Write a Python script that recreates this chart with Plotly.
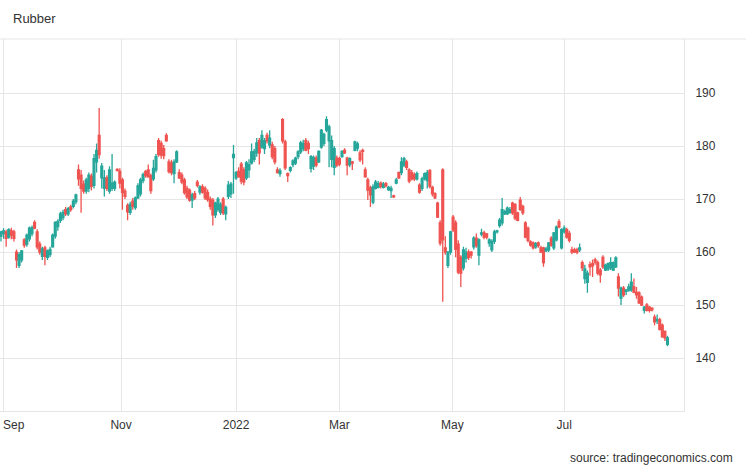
import plotly.graph_objects as go
import pandas as pd

TITLE = "Rubber"
SOURCE = "source: tradingeconomics.com"
START_DATE = "2021-08-31"

OPEN = [
    163.0, 163.5, 163.8, 162.8, 164.0, 163.8, 160.0, 157.5, 158.5, 162.3,
    161.5, 162.5, 163.5, 165.6, 163.8, 161.5, 159.2, 160.8, 159.0, 159.5,
    161.0, 163.0, 164.8, 166.0, 166.5, 168.0, 167.2, 168.5, 168.6, 169.5,
    175.5, 174.5, 172.8, 171.5, 172.0, 174.3, 172.6, 177.0, 182.0, 174.0,
    172.0, 174.0, 171.5, 172.0, 172.0, 175.6, 175.2, 173.6, 171.5, 168.8,
    167.5, 169.6, 168.4, 170.2, 171.0, 173.5, 175.2, 175.5, 174.4, 173.8,
    175.5, 181.0, 180.5, 179.5, 182.0, 177.0, 176.8, 174.8, 177.0, 175.0,
    174.5, 173.6, 172.0, 171.7, 169.8, 171.0, 173.2, 171.3, 172.3, 172.0,
    171.2, 170.0, 169.8, 167.0, 168.0, 167.5, 170.0, 167.2, 170.5, 171.0,
    177.8, 174.0, 175.2, 176.6, 175.5, 174.0, 175.5, 176.8, 177.5, 178.7,
    181.0, 179.8, 179.5, 182.0, 180.2, 180.2, 179.5, 175.5, 174.8, 185.0,
    180.8, 174.8, 175.4, 176.5, 176.8, 178.0, 178.9, 179.5, 181.0, 180.5,
    175.8, 176.2, 177.7, 177.0, 179.8, 180.5, 183.0, 181.0, 177.5, 176.0,
    177.7, 177.6, 178.0, 179.2, 177.7, 176.5, 177.0, 179.2, 179.6, 178.7,
    179.2, 175.5, 173.6, 172.1, 169.4, 172.0, 172.2, 173.0, 172.2, 172.9,
    171.8, 171.6, 170.6, 173.0, 175.0, 175.0, 176.4, 177.0, 175.5, 175.0,
    174.6, 173.8, 172.6, 172.0, 173.8, 173.5, 175.4, 172.2, 171.0, 169.2,
    165.5, 175.5, 160.8, 157.5, 160.0, 166.6, 165.5, 161.5, 159.0, 157.0,
    158.8, 160.0, 160.0, 161.0, 162.6, 159.4, 163.4, 163.6, 163.4, 161.7,
    160.4, 162.0, 163.8, 165.0, 165.5, 167.2, 167.2, 167.5, 169.2, 169.0,
    167.4, 169.8, 168.6, 165.5, 164.5, 161.9, 161.7, 161.0, 161.7, 160.8,
    160.8, 160.2, 160.4, 162.6, 160.8, 162.3, 165.7, 160.8, 163.8, 164.2,
    163.5, 160.4, 160.4, 160.4, 160.4, 158.0, 155.0, 154.3, 157.6, 157.8,
    158.5, 158.0, 156.6, 159.0, 156.6, 156.8, 157.0, 156.6, 157.2, 155.3,
    151.3, 153.2, 152.6, 152.8, 152.8, 153.4, 152.4, 152.3, 151.5, 149.0,
    150.0, 149.6, 149.4, 147.7, 147.0, 147.2, 146.2, 145.0, 142.6,
]
HIGH = [
    164.0, 164.5, 164.2, 164.5, 164.6, 164.2, 160.5, 160.0, 160.4, 162.6,
    163.5, 164.8, 165.0, 166.0, 164.3, 162.0, 161.0, 161.2, 160.5, 161.0,
    163.5, 165.8, 166.2, 167.6, 168.0, 168.5, 168.5, 168.9, 170.0, 171.0,
    176.5, 175.5, 173.5, 174.0, 175.0, 174.8, 178.5, 180.5, 187.2, 176.8,
    175.5, 174.5, 176.2, 178.5, 173.5, 175.8, 175.8, 174.0, 172.0, 169.2,
    169.5, 170.2, 170.5, 173.0, 174.0, 175.0, 175.5, 176.5, 174.8, 177.4,
    178.5, 181.5, 181.0, 180.2, 182.4, 177.5, 177.4, 177.5, 179.2, 175.6,
    175.0, 174.0, 172.5, 172.0, 171.2, 171.5, 173.6, 172.6, 172.8, 172.4,
    171.8, 170.5, 170.2, 169.5, 170.4, 169.4, 170.4, 168.8, 173.4, 173.2,
    180.2, 175.3, 176.0, 177.0, 176.0, 177.2, 177.5, 180.5, 179.5, 181.5,
    181.5, 183.0, 181.5, 182.5, 183.0, 180.8, 180.0, 176.0, 175.8, 185.3,
    181.2, 175.0, 176.2, 177.5, 178.0, 179.2, 181.0, 181.2, 181.5, 181.0,
    178.3, 178.2, 178.2, 179.2, 183.2, 182.5, 185.6, 184.0, 182.0, 180.0,
    178.2, 178.0, 179.2, 179.6, 178.0, 177.9, 177.2, 181.0, 180.8, 179.2,
    179.5, 176.0, 174.0, 172.5, 172.8, 173.6, 173.4, 173.3, 173.2, 173.2,
    172.5, 172.5, 170.8, 174.0, 175.2, 177.9, 178.0, 177.4, 175.8, 175.5,
    175.0, 175.2, 173.0, 174.2, 175.0, 175.5, 175.6, 172.5, 171.3, 169.5,
    166.0, 175.8, 163.0, 160.2, 164.0, 167.0, 166.0, 162.2, 159.4, 161.0,
    160.8, 160.5, 160.2, 163.0, 163.5, 162.6, 164.4, 164.0, 163.6, 162.6,
    162.4, 164.2, 164.2, 166.4, 170.2, 168.0, 168.6, 168.5, 169.5, 169.2,
    167.6, 170.4, 168.9, 165.8, 164.8, 162.2, 162.0, 161.9, 162.0, 161.2,
    161.0, 161.0, 161.9, 163.0, 163.8, 165.0, 166.2, 164.5, 165.0, 164.6,
    164.0, 161.0, 160.8, 160.8, 161.6, 158.4, 157.6, 156.5, 158.2, 158.6,
    158.9, 158.4, 157.0, 159.4, 157.8, 158.0, 159.0, 158.2, 159.2, 156.0,
    153.5, 153.6, 153.0, 154.0, 156.0, 155.0, 153.4, 152.6, 151.8, 149.8,
    150.4, 149.8, 149.6, 148.2, 148.2, 147.6, 146.5, 145.2, 144.2,
]
LOW = [
    162.0, 162.5, 161.0, 162.5, 162.4, 162.0, 157.0, 157.0, 158.0, 160.8,
    161.0, 162.0, 163.0, 164.3, 160.5, 159.5, 158.5, 157.5, 158.5, 159.0,
    160.8, 162.5, 164.0, 165.5, 166.0, 166.8, 166.8, 167.6, 168.2, 169.0,
    172.5, 167.4, 171.0, 171.0, 171.3, 171.6, 172.0, 175.0, 177.6, 172.0,
    170.5, 171.5, 171.0, 171.5, 171.5, 175.2, 172.0, 168.0, 170.0, 166.0,
    167.0, 168.0, 168.0, 170.0, 170.5, 173.0, 174.0, 174.0, 171.0, 173.4,
    175.0, 178.0, 177.6, 177.5, 180.8, 174.8, 174.5, 173.0, 176.8, 173.8,
    172.8, 170.8, 170.0, 169.5, 168.3, 169.8, 172.2, 170.8, 171.0, 169.8,
    169.5, 168.0, 165.0, 166.4, 167.6, 167.0, 167.0, 166.0, 170.0, 170.2,
    171.0, 173.6, 174.0, 172.8, 172.6, 173.6, 174.0, 176.5, 177.0, 178.0,
    176.5, 179.5, 178.5, 180.5, 179.6, 177.5, 176.5, 174.8, 174.2, 180.5,
    175.5, 173.2, 175.0, 176.0, 176.4, 177.5, 178.5, 179.0, 179.0, 178.5,
    175.0, 175.5, 176.0, 176.8, 179.5, 180.0, 182.6, 176.0, 176.0, 174.5,
    176.0, 176.2, 177.8, 178.5, 174.5, 176.0, 175.5, 179.0, 179.0, 177.0,
    176.5, 174.0, 169.8, 168.5, 169.0, 171.8, 172.0, 172.0, 172.0, 172.2,
    171.5, 170.2, 170.2, 172.8, 173.8, 174.5, 176.0, 175.5, 173.0, 173.5,
    173.4, 173.5, 171.0, 171.5, 173.5, 172.0, 172.0, 170.5, 170.0, 166.4,
    161.2, 150.6, 159.5, 157.0, 159.5, 163.8, 159.0, 155.8, 153.4, 156.5,
    158.0, 158.5, 158.8, 160.5, 160.8, 157.5, 163.0, 162.4, 162.4, 161.0,
    160.0, 161.5, 163.5, 164.6, 165.0, 167.0, 167.0, 167.2, 167.0, 166.0,
    165.8, 167.8, 167.0, 162.6, 161.8, 161.0, 160.5, 160.6, 160.8, 159.8,
    157.2, 160.0, 160.0, 161.0, 160.4, 162.0, 164.5, 160.5, 163.5, 162.5,
    161.8, 159.6, 159.8, 159.6, 160.0, 156.4, 154.0, 152.3, 155.5, 155.3,
    157.6, 155.6, 154.2, 156.8, 156.4, 156.4, 156.6, 156.4, 157.0, 151.6,
    150.0, 151.5, 151.9, 152.5, 152.5, 152.2, 151.2, 150.2, 149.8, 148.4,
    148.8, 148.6, 148.8, 146.2, 146.4, 145.2, 143.8, 143.2, 142.2,
]
CLOSE = [
    163.8, 164.0, 162.6, 164.2, 163.2, 162.6, 158.5, 159.5, 160.2, 161.3,
    163.2, 164.5, 164.6, 164.5, 161.0, 160.0, 160.6, 159.2, 160.2, 160.5,
    163.2, 165.6, 165.8, 167.2, 167.5, 167.2, 168.2, 168.0, 169.6, 170.8,
    173.8, 172.0, 171.5, 173.6, 174.5, 172.4, 177.6, 179.2, 178.4, 176.2,
    174.0, 172.0, 175.5, 173.0, 173.2, 175.4, 173.0, 171.2, 170.5, 167.6,
    169.0, 168.6, 170.2, 172.5, 173.6, 174.6, 174.4, 174.2, 171.6, 175.8,
    178.0, 178.4, 178.3, 178.2, 181.0, 175.2, 175.0, 177.0, 178.9, 174.0,
    173.2, 171.2, 170.4, 169.8, 170.8, 170.2, 172.6, 172.3, 171.3, 170.2,
    169.9, 168.6, 167.0, 169.2, 170.0, 169.0, 167.4, 168.4, 172.6, 172.8,
    178.4, 175.0, 174.2, 173.4, 173.2, 176.8, 176.5, 178.9, 179.0, 180.6,
    178.7, 182.0, 181.0, 181.0, 181.5, 178.0, 177.0, 175.0, 175.3, 181.0,
    175.9, 174.4, 175.9, 177.2, 177.7, 178.9, 180.6, 180.5, 179.2, 179.5,
    178.0, 177.8, 176.4, 179.0, 183.0, 182.2, 185.0, 183.6, 181.0, 179.5,
    176.4, 176.6, 179.0, 178.7, 176.4, 177.6, 176.8, 180.8, 180.4, 177.4,
    179.0, 174.2, 171.7, 170.8, 172.3, 173.2, 172.9, 172.4, 172.8, 172.5,
    172.2, 172.0, 170.4, 173.6, 174.0, 177.0, 177.6, 176.0, 173.4, 173.8,
    173.8, 174.8, 171.3, 173.8, 174.8, 175.0, 172.4, 171.0, 170.2, 166.6,
    161.7, 162.3, 160.0, 160.0, 163.8, 164.2, 160.5, 156.2, 156.0, 160.4,
    160.0, 159.0, 159.4, 162.6, 161.2, 162.3, 163.6, 162.8, 162.8, 162.3,
    162.0, 163.8, 164.0, 166.0, 168.0, 167.6, 168.3, 168.0, 167.4, 166.4,
    166.0, 168.0, 167.4, 162.8, 162.2, 161.3, 160.8, 161.6, 161.2, 160.0,
    158.0, 160.6, 161.7, 161.3, 163.6, 164.7, 164.7, 164.2, 164.5, 162.8,
    162.2, 160.0, 160.0, 160.0, 160.8, 157.0, 156.8, 156.0, 157.2, 157.4,
    158.1, 156.0, 155.7, 157.2, 157.5, 157.8, 158.0, 158.0, 158.9, 153.2,
    153.2, 151.9, 152.8, 153.4, 154.3, 152.4, 151.9, 150.4, 150.0, 149.6,
    149.0, 149.0, 149.1, 146.8, 147.3, 145.4, 144.0, 143.8, 143.8,
]

# month gridlines / labels (placed where the reference draws them)
X_TICK_DATES = ["2021-09-01", "2021-11-03 12:00", "2022-01-05", "2022-03-01 23:00",
                "2022-05-02 17:00", "2022-07-01"]
X_TICK_LABELS = ["", "Nov", "2022", "Mar", "May", "Jul"]
FIRST_LABEL = "Sep"
Y_TICKS = [140, 150, 160, 170, 180, 190]

GREEN = "#26a69a"
RED = "#ef5350"
GRID = "#e6e6e6"
TEXT = "#333333"
FONT = "Liberation Sans, Arial, sans-serif"

dates = pd.bdate_range(START_DATE, periods=len(CLOSE))

fig = go.Figure(
    go.Candlestick(
        x=dates, open=OPEN, high=HIGH, low=LOW, close=CLOSE,
        increasing=dict(line=dict(color=GREEN, width=1.3), fillcolor=GREEN),
        decreasing=dict(line=dict(color=RED, width=1.3), fillcolor=RED),
        whiskerwidth=0, showlegend=False,
    )
)

W, H = 746, 468
L, R, T, B = 0, 62, 39, 57
pw = W - L - R
ph = H - T - B

fig.update_layout(
    width=W, height=H,
    margin=dict(l=L, r=R, t=T, b=B),
    paper_bgcolor="white", plot_bgcolor="white",
    font=dict(family=FONT, size=12, color=TEXT),
    boxgap=0.0,
    title=dict(text=TITLE, x=13 / W, xref="container", xanchor="left",
               y=1 - 18 / H, yref="container", yanchor="middle",
               font=dict(size=13, color=TEXT, family=FONT)),
    xaxis=dict(
        type="date",
        rangebreaks=[dict(bounds=["sat", "mon"])],
        range=["2021-08-30 14:43", "2022-09-05 09:22"],
        rangeslider=dict(visible=False),
        tickvals=X_TICK_DATES, ticktext=X_TICK_LABELS,
        showgrid=True, gridcolor=GRID, gridwidth=1,
        showline=True, linecolor=GRID, linewidth=1,
        ticks="", ticklabelstandoff=3, tickfont=dict(size=12, color=TEXT),
        zeroline=False,
    ),
    yaxis=dict(
        side="right",
        range=[130, 200.2],
        tickvals=Y_TICKS,
        showgrid=True, gridcolor=GRID, gridwidth=1,
        showline=True, linecolor=GRID, linewidth=1,
        ticks="", ticklabelstandoff=8,
        tickfont=dict(size=12, color=TEXT),
        zeroline=False,
    ),
    shapes=[dict(type="line", xref="paper", yref="paper", x0=0, x1=W / pw,
                 y0=1, y1=1, line=dict(color=GRID, width=1))],
    annotations=[
        dict(text=SOURCE, xref="paper", yref="paper",
             x=735 / pw, y=-(458 - 411) / ph, xanchor="right", yanchor="middle",
             showarrow=False, font=dict(size=12, color=TEXT, family=FONT)),
        dict(text=FIRST_LABEL, xref="x", yref="paper",
             x=X_TICK_DATES[0], y=-(425 - 411) / ph, xanchor="left", yanchor="middle",
             xshift=-3, showarrow=False, font=dict(size=12, color=TEXT, family=FONT)),
    ],
)

fig.write_html("out.html", config={"displayModeBar": False})
